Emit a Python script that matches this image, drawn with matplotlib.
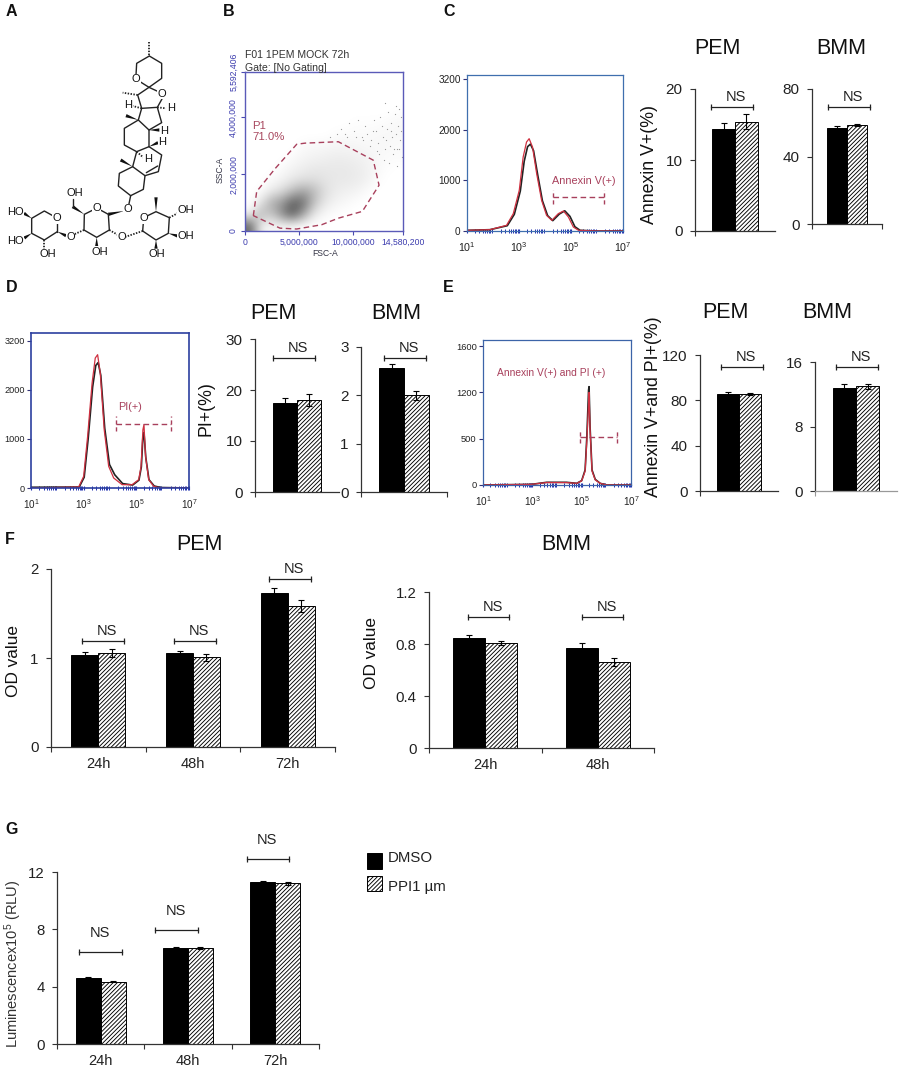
import numpy as np
import matplotlib
matplotlib.use('Agg')
import matplotlib.pyplot as plt
from matplotlib.patches import Polygon, Rectangle
from matplotlib.ticker import LogLocator, NullFormatter

plt.rcParams['font.family'] = ['Liberation Sans', 'DejaVu Sans']
plt.rcParams['mathtext.fontset'] = 'custom'
plt.rcParams['mathtext.rm'] = 'Liberation Sans'
plt.rcParams['hatch.linewidth'] = 0.65
W, H = 900, 1068
HATCH = '////////'

# bar values, first = DMSO (black), second = PPI1 (hatched)
c_pem = [14.4, 15.4]; c_pem_err = [0.85, 1.1]
c_bmm = [56.9, 58.7]; c_bmm_err = [1.2, 0.6]
d_pem = [17.5, 18.0]; d_pem_err = [0.9, 1.2]
d_bmm = [2.57, 2.0]; d_bmm_err = [0.08, 0.1]
e_pem = [85.5, 85.8]; e_pem_err = [2.0, 1.0]
e_bmm = [12.8, 13.0]; e_bmm_err = [0.5, 0.3]
f_hours_pem = ['24h', '48h', '72h']
f_pem_dmso = [1.035, 1.054, 1.727]; f_pem_dmso_err = [0.03, 0.02, 0.055]
f_pem_ppi = [1.054, 1.01, 1.585]; f_pem_ppi_err = [0.045, 0.04, 0.07]
f_hours_bmm = ['24h', '48h']
f_bmm_dmso = [0.846, 0.772]; f_bmm_dmso_err = [0.023, 0.036]
f_bmm_ppi = [0.808, 0.662]; f_bmm_ppi_err = [0.015, 0.03]
g_hours = ['24h', '48h', '72h']
g_dmso = [4.63, 6.7, 11.3]; g_dmso_err = [0.05, 0.05, 0.06]
g_ppi = [4.35, 6.7, 11.2]; g_ppi_err = [0.05, 0.05, 0.08]

# histograms: log10 of intensity, counts
c_log_red = [1.0, 1.88, 2.52, 2.78, 3.01, 3.16, 3.29, 3.39, 3.52, 3.68, 3.87, 4.06, 4.26, 4.51, 4.71, 4.9, 5.09, 5.29, 5.99, 7.0]
c_red = [13, 26, 112, 343, 805, 1465, 1762, 1828, 1663, 1135, 607, 310, 211, 343, 396, 277, 79, 13, 0, 0]
c_log_blk = [1.0, 1.88, 2.55, 2.82, 3.05, 3.2, 3.33, 3.44, 3.56, 3.72, 3.9, 4.1, 4.3, 4.55, 4.76, 4.96, 5.15, 5.35, 6.0, 7.0]
c_blk = [13, 26, 105, 330, 790, 1380, 1670, 1720, 1590, 1110, 600, 305, 205, 335, 400, 290, 85, 13, 0, 0]
d_log_red = [1.0, 2.81, 3.0, 3.15, 3.32, 3.44, 3.53, 3.63, 3.78, 3.95, 4.14, 4.46, 4.84, 5.09, 5.18, 5.25, 5.29, 5.35, 5.47, 5.66, 5.91, 7.0]
d_red = [0, 20, 238, 1054, 2142, 2652, 2720, 2346, 1190, 442, 204, 68, 68, 170, 442, 1190, 1292, 646, 170, 34, 0, 0]
d_log_blk = [1.0, 2.83, 3.02, 3.17, 3.34, 3.46, 3.55, 3.65, 3.8, 3.98, 4.18, 4.48, 4.86, 5.1, 5.19, 5.25, 5.29, 5.36, 5.48, 5.68, 5.93, 7.0]
d_blk = [15, 20, 220, 1000, 2060, 2500, 2560, 2300, 1220, 480, 270, 90, 60, 160, 430, 1050, 1130, 620, 170, 40, 10, 0]
e_log = [1.0, 2.97, 3.58, 4.39, 4.8, 5.0, 5.14, 5.21, 5.28, 5.3, 5.34, 5.42, 5.55, 5.75, 6.02, 7.0]
e_blk = [0, 7, 29, 29, 18, 47, 162, 522, 1026, 1062, 630, 162, 61, 18, 0, 0]
e_red = [0, 7, 27, 26, 18, 45, 150, 480, 880, 1000, 600, 150, 55, 18, 0, 0]

# scatter density of panel B by eye, rows run top down, cols are FSC bins
b_density = [
    [0, 0, 0, 0, 0, 0, 0, 0, 0, 0, 0, 0, 0, 0, 0],
    [0, 0, 0, 0, 0, 0, 0, 0, 0, 0, 0, 0, 0, 0, 0],
    [0, 0, 0, 0, 0, 0, 0, 0, 0, 0, 0, 0, 0, 0, 0],
    [0, 0, 0, 0, 0, 0, 0, 0, 0, 0, 0, 0, 0, 0, .01],
    [0, 0, 0, 0, 0, 0, 0, 0, 0, 0, .01, .01, .01, .02, .03],
    [0, 0, 0, 0, 0, 0, 0, 0, .01, .02, .02, .02, .03, .03, .03],
    [0, 0, 0, 0, 0, .02, .03, .03, .04, .04, .04, .03, .03, .03, .02],
    [0, 0, 0, 0, .02, .04, .05, .06, .07, .07, .06, .05, .03, .02, .02],
    [0, 0, 0, .02, .05, .07, .09, .09, .09, .09, .08, .06, .03, .01, 0],
    [0, 0, .02, .05, .09, .12, .13, .11, .09, .09, .08, .06, .02, 0, 0],
    [0, .01, .08, .14, .26, .36, .28, .14, .08, .06, .05, .02, 0, 0, 0],
    [0, .10, .32, .40, .62, .58, .26, .10, .05, .03, .01, 0, 0, 0, 0],
    [.05, .28, .22, .45, .66, .38, .10, .03, .01, 0, 0, 0, 0, 0, 0],
    [.60, .06, .03, .03, .02, 0, 0, 0, 0, 0, 0, 0, 0, 0, 0],
]
b_gate_fsc = [0.77, 1.08, 2.77, 4.77, 5.54, 8.61, 11.84, 12.37, 10.83, 8.61, 7.07, 4.77, 3.23, 0.77]
b_gate_ssc = [0.54, 1.39, 2.19, 3.05, 3.09, 3.14, 2.49, 1.61, 0.69, 0.45, 0.22, 0.07, 0.10, 0.54]
# stray events outside the main cloud
b_dots_fsc = [8.9, 9.2, 9.6, 10.1, 10.4, 10.8, 11.1, 11.3, 11.6, 11.9, 12.1, 12.3, 12.5, 12.7, 12.9, 13.1, 13.2,
              13.4, 13.5, 13.7, 13.8, 13.9, 14.0, 14.1, 14.2, 14.3, 14.4, 14.5, 12.2, 12.8, 13.3, 13.6, 14.05,
              11.5, 10.9, 10.2, 9.4, 8.5, 7.8, 12.6, 13.05, 13.95, 14.35, 12.95, 13.75, 14.25, 13.45, 12.4, 11.8]
b_dots_ssc = [3.6, 3.4, 3.8, 3.5, 3.9, 3.3, 3.7, 3.4, 3.2, 3.9, 3.5, 3.1, 4.0, 3.3, 2.9, 3.6, 4.2,
              3.0, 3.8, 2.7, 4.1, 3.4, 2.9, 3.7, 4.3, 3.2, 4.0, 2.6, 2.8, 2.5, 2.4, 3.3, 2.3,
              3.0, 3.2, 3.3, 3.3, 3.4, 3.3, 3.7, 3.2, 4.4, 3.5, 4.5, 2.9, 2.9, 3.5, 2.7, 3.5]

# molecule of panel A, drawn on a 600x720 sketch grid
mol_bonds = [
    [(448, 78), (485, 100), (485, 145), (447, 172), (420, 155)],
    [(408, 135), (410, 100), (448, 78)],
    [(447, 172), (473, 184)],
    [(487, 205), (472, 232), (425, 235), (413, 195), (447, 172)],
    [(472, 232), (485, 278), (447, 300), (415, 270), (425, 235)],
    [(415, 270), (373, 295), (373, 345), (410, 365), (447, 350), (447, 300)],
    [(447, 350), (485, 375), (475, 425), (435, 437), (398, 410), (410, 365)],
    [(398, 410), (358, 430), (355, 468), (392, 497), (430, 478), (435, 437)],
    [(439, 428), (473, 408)],
    [(392, 497), (386, 526)],
    [(325, 553), (303, 541)],
    [(277, 541), (253, 553), (252, 600), (290, 622), (328, 600), (325, 553)],
    [(218, 530), (218, 507)],
    [(428, 603), (430, 578)],
    [(441, 558), (468, 545), (508, 563), (505, 610), (468, 630), (428, 603)],
    [(172, 605), (172, 578)],
    [(160, 558), (133, 543), (95, 565), (95, 610), (133, 630), (172, 605)],
]
mol_wedges = [
    [(415, 270), (378, 257)], [(447, 300), (478, 300)], [(447, 350), (474, 338)],
    [(398, 410), (362, 390)], [(372, 543), (325, 553)], [(253, 553), (218, 530)],
    [(290, 622), (290, 650)], [(468, 545), (468, 502)], [(505, 610), (533, 618)],
    [(468, 630), (468, 656)], [(172, 605), (198, 617)], [(95, 565), (72, 550)],
    [(95, 610), (73, 624)],
]
mol_dashes = [
    [(448, 75), (448, 35)], [(413, 195), (368, 188)], [(425, 235), (398, 228)],
    [(472, 232), (498, 235)], [(410, 365), (432, 384)], [(252, 600), (222, 613)],
    [(328, 600), (354, 615)], [(375, 621), (428, 603)], [(508, 563), (534, 549)],
    [(133, 630), (133, 656)],
]
mol_atoms = [
    ('O', 408, 147), ('O', 485, 192), ('H', 385, 225), ('H', 514, 235), ('H', 492, 302),
    ('H', 487, 337), ('H', 443, 387), ('O', 382, 538), ('O', 290, 535), ('OH', 225, 488),
    ('O', 212, 620), ('O', 365, 620), ('OH', 300, 665), ('O', 430, 565), ('OH', 557, 541),
    ('OH', 558, 618), ('OH', 470, 673), ('O', 170, 565), ('HO', 45, 545), ('HO', 45, 632),
    ('OH', 143, 673),
]


def px_axes(x0, y_top, x1, y_bot):
    return fig.add_axes([x0 / W, 1 - y_bot / H, (x1 - x0) / W, (y_bot - y_top) / H])


def px_text(x, y, s, **kw):
    kw.setdefault('ha', 'center')
    kw.setdefault('va', 'center')
    fig.text(x / W, 1 - y / H, s, **kw)


def bar_panel(box, labels, dmso, ppi, dmso_err, ppi_err, yticks, yticklabels, brackets,
              width=0.285, ns_dx=4, ns_dy=10, xticks=None, axis_col='#333333', size=11):
    ax = px_axes(*box)
    n = len(dmso)
    x = np.arange(n) + 0.5
    ekw = dict(capsize=2.2, elinewidth=0.8, capthick=0.8)
    ax.bar(x - width, dmso, width, align='edge', color='black', edgecolor='black', linewidth=0.7,
           yerr=dmso_err, ecolor='black', error_kw=ekw)
    ax.bar(x, ppi, width, align='edge', color='white', edgecolor='black', linewidth=0.7, hatch=HATCH,
           yerr=ppi_err, ecolor='black', error_kw=ekw)
    ax.set_xlim(0, n)
    ax.set_ylim(0, yticks[-1])
    ax.set_yticks(yticks)
    ax.set_yticklabels(yticklabels)
    ax.set_xticks(np.arange(n + 1) if xticks is None else xticks)
    ax.set_xticklabels([])
    ax.set_xticks(x, labels, minor=True)
    ax.tick_params(axis='x', which='minor', length=0, pad=7.5, labelsize=10.5, labelcolor='#222222')
    ax.tick_params(axis='x', which='major', length=3.5, width=0.8, color=axis_col)
    ax.tick_params(axis='y', length=3.5, width=0.8, pad=5.5, labelsize=size, color='#333333', labelcolor='#222222')
    for s in ['top', 'right']:
        ax.spines[s].set_visible(False)
    ax.spines['left'].set_color('#333333')
    ax.spines['bottom'].set_color(axis_col)
    ax.spines['left'].set_linewidth(0.9)
    ax.spines['bottom'].set_linewidth(0.9)
    ax.patch.set_alpha(0)
    for x0, x1, y in brackets:
        ax.plot([x0, x1], [y, y], color='#222222', lw=0.9, clip_on=False, marker='|', ms=4.2, mew=0.9)
        ax.annotate('NS', ((x0 + x1) / 2, y), xytext=(ns_dx * 0.72, ns_dy * 0.72), textcoords='offset points',
                    ha='center', va='center', fontsize=10.5, color='#222222', annotation_clip=False)
    return ax


def hist_panel(box, xlog_blk, blk, xlog_red, red, ymax, ytick_pos, ytick_txt, col, lw, size):
    ax = px_axes(*box)
    ax.set_xscale('log')
    ax.plot(10.0 ** np.array(xlog_blk), blk, color='#222222', lw=1.2)
    ax.plot(10.0 ** np.array(xlog_red), red, color='#cf3040', lw=0.9)
    ax.set_xlim(10, 1e7)
    ax.set_ylim(0, ymax)
    ax.set_yticks(ytick_pos)
    ax.set_yticklabels(ytick_txt)
    ax.set_xticks([1e1, 1e3, 1e5, 1e7])
    ax.set_xticklabels([r'$\mathregular{10^{%d}}$' % k for k in [1, 3, 5, 7]])
    ax.xaxis.set_minor_locator(LogLocator(base=10, subs=(2, 3, 4, 5, 6, 7, 8, 9), numticks=12))
    ax.xaxis.set_minor_formatter(NullFormatter())
    ax.tick_params(axis='x', which='major', length=3, width=0.8, direction='inout', color='#2030b0',
                   labelsize=size + 0.5, pad=5, labelcolor='#222222')
    ax.tick_params(axis='x', which='minor', length=3, width=0.7, direction='inout', color='#2030b0')
    ax.tick_params(axis='y', length=3, width=0.8, color='#333377', labelsize=size, pad=1.5, labelcolor='#222222')
    for s in ax.spines.values():
        s.set_color(col)
        s.set_linewidth(lw)
    return ax


def gate(ax, x0, x1, y, y0, y1):
    col = '#a8405c'
    ax.plot(10.0 ** np.array([x0, x1]), [y, y], color=col, lw=1, ls=(0, (4, 2.5)))
    ax.plot(10.0 ** np.array([x0, x0]), [y0, y1], color=col, lw=1, ls=(0, (3, 2)))
    ax.plot(10.0 ** np.array([x1, x1]), [y0, y1], color=col, lw=1, ls=(0, (3, 2)))


fig = plt.figure(figsize=(W / 100, H / 100), dpi=100, facecolor='white')

# panel letters
for s, x, y in [('A', 11, 11), ('B', 229, 11), ('C', 449, 11), ('D', 12, 288), ('E', 448, 288),
                ('F', 10, 540), ('G', 12, 829)]:
    px_text(x, y, s, fontsize=11.5, fontweight='bold', color='#111111')

# A: molecule
ax_a = px_axes(0, 30, 200, 270)
ax_a.set_xlim(0, 600)
ax_a.set_ylim(720, 0)
ax_a.axis('off')
for b in mol_bonds:
    ax_a.plot(*zip(*b), color='#222222', lw=1.0, solid_capstyle='round')
for (x0, y0), (x1, y1) in mol_wedges:
    nx, ny = -(y1 - y0), x1 - x0
    d = np.hypot(nx, ny)
    nx, ny = nx / d * 5, ny / d * 5
    ax_a.add_patch(Polygon([(x0, y0), (x1 + nx, y1 + ny), (x1 - nx, y1 - ny)], color='#111111', lw=0))
for (x0, y0), (x1, y1) in mol_dashes:
    ax_a.plot([x0, x1], [y0, y1], color='#222222', lw=1.3, ls=(0, (0.8, 0.8)))
for s, x, y in mol_atoms:
    ax_a.text(x, y, s, fontsize=8, ha='center', va='center', color='#111111',
              bbox=dict(facecolor='white', edgecolor='none', pad=0.2))

# B: scatter density with gate
ax_b = px_axes(245, 72, 403, 231)
ax_b.imshow(np.array(b_density), extent=[0, 14.58, 0, 5.592], aspect='auto', cmap='gray_r',
            vmin=0, vmax=1, interpolation='bicubic')
ax_b.scatter(b_dots_fsc, b_dots_ssc, s=0.8, color='#999999', linewidths=0)
ax_b.plot(b_gate_fsc, b_gate_ssc, color='#a8405c', lw=1, ls=(0, (4, 2.5)))
ax_b.set_xlim(0, 14.58)
ax_b.set_ylim(0, 5.592)
ax_b.set_xticks([0, 5, 10, 14.58])
ax_b.set_xticklabels(['0', '5,000,000', '10,000,000', '14,580,200'])
ax_b.set_yticks([0, 2, 4, 5.592])
ax_b.set_yticklabels(['0', '2,000,000', '4,000,000', '5,592,406'], rotation=90, va='center')
ax_b.tick_params(length=3, width=0.8, labelsize=6.2, color='#4a4ab0', labelcolor='#3c3cae', pad=2)
for s in ax_b.spines.values():
    s.set_color('#5a5ab8')
    s.set_linewidth(1)
px_text(245, 55, 'F01 1PEM MOCK 72h', ha='left', fontsize=7.6, color='#333333')
px_text(245, 68, 'Gate: [No Gating]', ha='left', fontsize=7.6, color='#333333')
px_text(220, 170, 'SSC-A', rotation=90, fontsize=6.2, color='#333344')
px_text(325, 253, 'FSC-A', fontsize=6.2, color='#333344')
px_text(252, 126, 'P1', ha='left', fontsize=8.2, color='#a8485f')
px_text(252, 137, '71.0%', ha='left', fontsize=8.2, color='#a8485f')

# C
ax = hist_panel((467, 75, 623, 231), c_log_blk, c_blk, c_log_red, c_red, 3089, [0, 1000, 2000, 3000],
                ['0', '1000', '2000', '3200'], '#3f6fae', 0.9, 7.2)
gate(ax, 4.29, 6.25, 673, 541, 818)
px_text(584, 181, 'Annexin V(+)', fontsize=7.8, color='#a8405c')
px_text(717, 48, 'PEM', fontsize=15.5, color='#111111')
px_text(841, 48, 'BMM', fontsize=15.5, color='#111111')
px_text(650, 165, 'Annexin V+(%)', rotation=90, fontsize=12.8, color='#111111')
bar_panel((695, 89, 775, 231), [''], [c_pem[0]], [c_pem[1]], [c_pem_err[0]], [c_pem_err[1]],
          [0, 10, 20], ['0', '10', '20'], [(0.2, 0.725, 17.5)], xticks=[0])
bar_panel((812, 89, 882, 224), [''], [c_bmm[0]], [c_bmm[1]], [c_bmm_err[0]], [c_bmm_err[1]],
          [0, 40, 80], ['0', '40', '80'], [(0.229, 0.829, 69.3)])

# D
ax = hist_panel((31, 333, 189, 488), d_log_blk, d_blk, d_log_red, d_red, 3163, [0, 1000, 2000, 3000],
                ['0', '1000', '2000', '3200'], '#2c3f9f', 1.2, 6.6)
gate(ax, 4.24, 6.32, 1306, 1170, 1462)
ax.text(10 ** 4.77, 1652, 'PI(+)', fontsize=7.8, color='#a8405c', ha='center', va='center')
px_text(273, 314, 'PEM', fontsize=15.5, color='#111111')
px_text(396, 314, 'BMM', fontsize=15.5, color='#111111')
px_text(206, 409, 'PI+(%)', rotation=90, fontsize=12.8, color='#111111')
bar_panel((255, 339, 339, 492), [''], [d_pem[0]], [d_pem[1]], [d_pem_err[0]], [d_pem_err[1]],
          [0, 10, 20, 30], ['0', '10', '20', '30'], [(0.214, 0.714, 26.3)], xticks=[0])
bar_panel((361, 347, 447, 492), [''], [d_bmm[0]], [d_bmm[1]], [d_bmm_err[0]], [d_bmm_err[1]],
          [0, 1, 2, 3], ['0', '1', '2', '3'], [(0.267, 0.756, 2.77)])

# E
ax = hist_panel((483, 340, 631, 485), e_log, e_blk, e_log, e_red, 1566, [0, 500, 1000, 1500],
                ['0', '500', '1200', '1600'], '#3c64a8', 0.9, 6.7)
gate(ax, 4.95, 6.43, 522, 450, 594)
ax.text(10 ** 3.76, 1206, 'Annexin V(+) and PI (+)', fontsize=7.4, color='#a8405c', ha='center', va='center')
px_text(725, 313, 'PEM', fontsize=15.5, color='#111111')
px_text(827, 313, 'BMM', fontsize=15.5, color='#111111')
px_text(654, 407, 'Annexin V+and PI+(%)', rotation=90, fontsize=12.8, color='#111111')
bar_panel((700, 355, 778, 491), [''], [e_pem[0]], [e_pem[1]], [e_pem_err[0]], [e_pem_err[1]],
          [0, 40, 80, 120], ['0', '40', '80', '120'], [(0.269, 0.808, 109.4)], xticks=[0])
bar_panel((815, 362, 897, 491), [''], [e_bmm[0]], [e_bmm[1]], [e_bmm_err[0]], [e_bmm_err[1]],
          [0, 8, 16], ['0', '8', '16'], [(0.256, 0.768, 15.4)], xticks=[0], axis_col='#999999')

# F
px_text(199, 544, 'PEM', fontsize=15.5, color='#111111')
px_text(566, 544, 'BMM', fontsize=15.5, color='#111111')
px_text(14, 661, 'OD value', rotation=90, fontsize=12.4, color='#111111')
px_text(372, 653, 'OD value', rotation=90, fontsize=12.4, color='#111111')
bar_panel((51, 569, 335, 747), f_hours_pem, f_pem_dmso, f_pem_ppi, f_pem_dmso_err, f_pem_ppi_err,
          [0, 1, 2], ['0', '1', '2'],
          [(0.327, 0.771, 1.19), (1.30, 1.743, 1.19), (2.303, 2.746, 1.888)], size=10.8)
bar_panel((429, 592, 654, 748), f_hours_bmm, f_bmm_dmso, f_bmm_ppi, f_bmm_dmso_err, f_bmm_ppi_err,
          [0, 0.4, 0.8, 1.2], ['0', '0.4', '0.8', '1.2'],
          [(0.347, 0.711, 1.008), (1.36, 1.724, 1.008)], size=10.8)

# G
px_text(13, 964, 'Luminescencex10$\\mathregular{^{5}}$ (RLU)', rotation=90, fontsize=10.5, color='#333333')
bar_panel((57, 872, 319, 1044), g_hours, g_dmso, g_ppi, g_dmso_err, g_ppi_err,
          [0, 4, 8, 12], ['0', '4', '8', '12'],
          [(0.252, 0.745, 6.42), (1.123, 1.615, 7.95), (2.176, 2.657, 12.9)], ns_dx=-1, ns_dy=19, size=10.8)

# legend
ax_leg = px_axes(360, 845, 460, 900)
ax_leg.set_xlim(360, 460)
ax_leg.set_ylim(900, 845)
ax_leg.axis('off')
ax_leg.add_patch(Rectangle((367, 853), 15, 16, facecolor='black', edgecolor='black', lw=0.7))
ax_leg.add_patch(Rectangle((367, 876), 15, 15, facecolor='white', edgecolor='black', lw=0.7, hatch=HATCH))
px_text(388, 858, 'DMSO', ha='left', fontsize=10.8, color='#222222')
px_text(388, 887, 'PPI1 µm', ha='left', fontsize=10.8, color='#222222')

fig.savefig('out.png', dpi=100)
